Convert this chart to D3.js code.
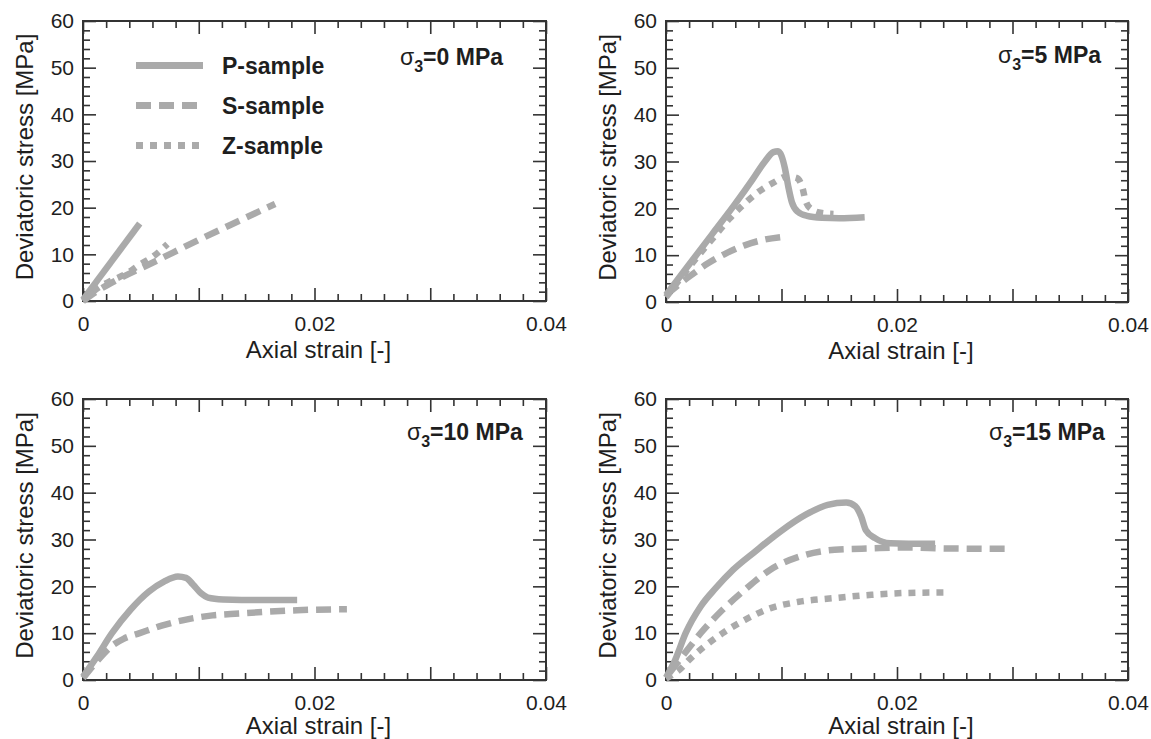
<!DOCTYPE html>
<html>
<head>
<meta charset="utf-8">
<script src="https://cdn.jsdelivr.net/npm/d3@7"></script>
<style>
  html, body { margin: 0; padding: 0; background: #fff; }
  svg { display: block; font-family: "Liberation Sans", Arial, sans-serif; }
</style>
</head>
<body>
<svg id="chart" width="1151" height="739"></svg>
<script>
// ---------------- data ----------------
const seriesNames = ["P-sample", "S-sample", "Z-sample"];
const confiningLabels = ["0", "5", "10", "15"];
const xTickLabels = [0, 0.02, 0.04];
const yTickLabels = [0, 10, 20, 30, 40, 50, 60];
const xDomain = [0, 0.04];
const yDomain = [0, 60];

// sigma3 = 0 MPa
const p0 = [[0, 0.3], [0.0049, 16.6]];
const s0 = [[0, 0], [0.0014, 2.4], [0.003, 4.6], [0.006, 8.2], [0.01, 13.1], [0.0135, 17.2], [0.0166, 20.8]];
const z0 = [[0, 0], [0.0014, 3.0], [0.0025, 4.4], [0.0037, 5.8], [0.0049, 7.8], [0.0061, 9.6], [0.0073, 12.2]];
// sigma3 = 5 MPa
const p5 = [[0, 1.5], [0.002, 8], [0.004, 14.5], [0.006, 21], [0.0075, 26.2], [0.0085, 29.8], [0.0093, 32], [0.0097, 32.2], [0.0100, 31.2], [0.0103, 28.5], [0.0106, 24.5], [0.0109, 21.3], [0.0114, 19.3], [0.0122, 18.4], [0.0135, 18.0], [0.015, 17.9], [0.0172, 18.1]];
const s5 = [[0, 1.5], [0.002, 5.4], [0.0036, 8.2], [0.0052, 10.4], [0.0068, 12.1], [0.0083, 13.2], [0.0101, 13.9]];
const z5 = [[0, 1], [0.0017, 6.5], [0.003, 10.5], [0.0043, 14.3], [0.0055, 17.8], [0.0068, 21], [0.008, 23.5], [0.0093, 25.5], [0.0105, 26.8], [0.0113, 26.5], [0.0118, 24.5], [0.0121, 21.5], [0.0126, 19.8], [0.0135, 19], [0.0145, 18.8]];
// sigma3 = 10 MPa
const p10 = [[0, 0.7], [0.0012, 5], [0.0025, 10], [0.0041, 15], [0.0057, 18.9], [0.007, 21], [0.0082, 22.1], [0.0089, 21.8], [0.0095, 20.4], [0.0102, 18.5], [0.0108, 17.6], [0.0121, 17.2], [0.0137, 17.1], [0.0153, 17.1], [0.0185, 17.1]];
const s10 = [[0, 0.4], [0.0012, 4], [0.0025, 7.3], [0.0035, 8.8], [0.0049, 10], [0.0068, 11.6], [0.0087, 12.8], [0.0112, 13.8], [0.0135, 14.2], [0.016, 14.6], [0.0185, 14.9], [0.0228, 15.1]];
const z10 = [];
// sigma3 = 15 MPa
const p15 = [[0, 0.5], [0.0008, 4.3], [0.0017, 10], [0.003, 15.7], [0.0043, 19.6], [0.0058, 23.5], [0.0077, 27.4], [0.0099, 31.7], [0.0121, 35.3], [0.014, 37.4], [0.0156, 37.9], [0.0164, 37.1], [0.0169, 34.9], [0.0173, 32], [0.0181, 30.3], [0.0194, 29.2], [0.021, 29.1], [0.0233, 29.1]];
const s15 = [[0.0003, 1.5], [0.0014, 5], [0.003, 10], [0.0049, 15], [0.0068, 19.2], [0.009, 23.5], [0.0115, 26.3], [0.0146, 27.8], [0.0178, 28.1], [0.021, 28.3], [0.0241, 28.1], [0.0296, 28]];
const z15 = [[0, 0.3], [0.0013, 2.5], [0.002, 4.3], [0.0033, 7.1], [0.0049, 10], [0.0068, 12.8], [0.009, 15.3], [0.0115, 16.7], [0.0146, 17.5], [0.0178, 18.2], [0.021, 18.6], [0.0244, 18.7]];

const panelSeries = [[p0, s0, z0], [p5, s5, z5], [p10, s10, z10], [p15, s15, z15]];

// ---------------- layout / style ----------------
const panels = [
  { left: 83, top: 21, width: 463, height: 280, labelDx: 317, labelY: 65 },
  { left: 666, top: 21, width: 462, height: 281, labelDx: 332, labelY: 63 },
  { left: 83, top: 399, width: 463, height: 281, labelDx: 324, labelY: 440 },
  { left: 666, top: 399, width: 462, height: 281, labelDx: 323, labelY: 440 }
];
const lineColor = "#aaaaaa";
const axisColor = "#333";
const textColor = "#1e1e1e";
const dashes = [null, "15,8", "7,7"];
const lineWidth = 6.5;

const svg = d3.select("#chart");

const xMinor = d3.range(0, 0.04 + 1e-9, 0.002).filter(v => Math.abs(Math.round(v / 0.01) * 0.01 - v) > 1e-9);
const xMajor = d3.range(0, 0.04 + 1e-9, 0.01);
const yMinor = d3.range(0, 61, 2).filter(v => v % 10 !== 0);
const yMajor = d3.range(0, 61, 10);
const fmtX = v => v === 0 ? "0" : d3.format(".2f")(v);

panels.forEach((p, i) => {
  const g = svg.append("g").attr("transform", `translate(${p.left},${p.top})`);
  const x = d3.scaleLinear().domain(xDomain).range([0, p.width]);
  const y = d3.scaleLinear().domain(yDomain).range([p.height, 0]);

  // ticks (inward, on all four sides)
  const tickGroups = [
    [d3.axisBottom(x).tickValues(xMinor).tickSize(-7), `translate(0,${p.height})`],
    [d3.axisBottom(x).tickValues(xMajor).tickSize(-13), `translate(0,${p.height})`],
    [d3.axisTop(x).tickValues(xMinor).tickSize(-7), null],
    [d3.axisTop(x).tickValues(xMajor).tickSize(-13), null],
    [d3.axisLeft(y).tickValues(yMinor).tickSize(-7), null],
    [d3.axisLeft(y).tickValues(yMajor).tickSize(-13), null],
    [d3.axisRight(y).tickValues(yMinor).tickSize(-7), `translate(${p.width},0)`],
    [d3.axisRight(y).tickValues(yMajor).tickSize(-13), `translate(${p.width},0)`]
  ];
  tickGroups.forEach(([ax, tr]) => {
    const tg = g.append("g").call(ax.tickFormat(""));
    if (tr) tg.attr("transform", tr);
    tg.select(".domain").remove();
    tg.selectAll("line").attr("stroke", axisColor).attr("stroke-width", 1.6);
  });

  // tick labels
  const xl = g.append("g").attr("transform", `translate(0,${p.height})`)
    .call(d3.axisBottom(x).tickValues(xTickLabels).tickSize(0).tickPadding(15).tickFormat(fmtX));
  xl.select(".domain").remove();
  xl.selectAll("text").attr("font-size", 21).attr("fill", textColor).attr("font-family", "Liberation Sans, Arial, sans-serif");
  const yl = g.append("g")
    .call(d3.axisLeft(y).tickValues(yTickLabels).tickSize(0).tickPadding(9));
  yl.select(".domain").remove();
  yl.selectAll("text").attr("font-size", 21).attr("fill", textColor).attr("font-family", "Liberation Sans, Arial, sans-serif");

  // frame
  g.append("rect").attr("x", 0).attr("y", 0).attr("width", p.width).attr("height", p.height)
    .attr("fill", "none").attr("stroke", axisColor).attr("stroke-width", 2);

  // axis titles
  g.append("text")
    .attr("x", p.width / 2 + 4).attr("y", p.height + (i < 2 ? 57 : 54))
    .attr("text-anchor", "middle").attr("font-size", 24).attr("fill", textColor)
    .text("Axial strain [-]");
  g.append("text")
    .attr("transform", `translate(-50,${p.height / 2 - 4}) rotate(-90)`)
    .attr("text-anchor", "middle").attr("font-size", 24).attr("fill", textColor)
    .text("Deviatoric stress [MPa]");

  // curves
  const line = d3.line().x(d => x(d[0])).y(d => y(d[1])).curve(d3.curveMonotoneX);
  panelSeries[i].forEach((data, k) => {
    if (!data.length) return;
    const path = g.append("path").datum(data)
      .attr("d", line).attr("fill", "none")
      .attr("stroke", lineColor).attr("stroke-width", lineWidth)
      .attr("stroke-linejoin", "round");
    if (dashes[k]) path.attr("stroke-dasharray", dashes[k]);
  });

  // sigma3 label
  const t = g.append("text").attr("x", p.labelDx).attr("y", p.labelY - p.top)
    .attr("font-size", 23).attr("font-weight", "bold").attr("fill", textColor);
  t.append("tspan").attr("font-weight", "normal").attr("font-size", 23).text("σ");
  t.append("tspan").attr("font-size", 16).attr("dy", 7).text("3");
  t.append("tspan").attr("dy", -7).text("=" + confiningLabels[i] + " MPa");

  // legend (first panel only)
  if (i === 0) {
    const legY = [65.5, 105.5, 145.5];
    seriesNames.forEach((name, k) => {
      const ly = legY[k] - p.top;
      const seg = g.append("line").attr("x1", 136 - p.left).attr("x2", 203 - p.left)
        .attr("y1", ly).attr("y2", ly)
        .attr("stroke", lineColor).attr("stroke-width", 7);
      if (dashes[k]) seg.attr("stroke-dasharray", dashes[k]);
      g.append("text").attr("x", 222 - p.left).attr("y", ly + 8)
        .attr("font-size", 23).attr("font-weight", "bold").attr("fill", textColor)
        .text(name);
    });
  }
});
</script>
</body>
</html>
